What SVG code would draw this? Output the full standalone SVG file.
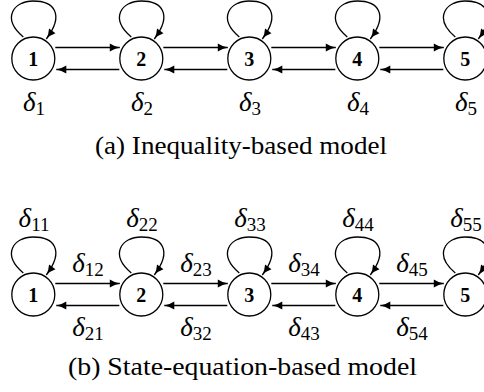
<svg xmlns="http://www.w3.org/2000/svg" width="484" height="392" viewBox="0 0 484 392">
<style>
.node{fill:#fff;stroke:#000;stroke-width:1.3}
.num{font-weight:bold;font-size:20px;text-anchor:middle}
.edge{fill:none;stroke:#000;stroke-width:1.3;marker-end:url(#ah)}
.lab{font-style:italic;font-size:27px;text-anchor:middle}
.sub{font-style:normal;font-size:19px}
.cap{font-size:26px;text-anchor:middle}
</style>
<defs>
<marker id="ah" markerUnits="userSpaceOnUse" markerWidth="11" markerHeight="9" refX="10" refY="4" orient="auto" overflow="visible">
<path d="M0,0 Q5,3.2 10,4 Q5,4.8 0,8 Z" fill="#000"/>
</marker>
</defs>
<rect width="484" height="392" fill="#fff"/>
<g id="connectors">
<path class="edge" d="M23.3,37 C1.3,18.5 13.3,1 33.3,1 C53.3,1 65.3,13.5 46.3,39"/>
<path class="edge" d="M131.3,37 C109.3,18.5 121.3,1 141.3,1 C161.3,1 173.3,13.5 154.3,39"/>
<path class="edge" d="M239.3,37 C217.3,18.5 229.3,1 249.3,1 C269.3,1 281.3,13.5 262.3,39"/>
<path class="edge" d="M347.3,37 C325.3,18.5 337.3,1 357.3,1 C377.3,1 389.3,13.5 370.3,39"/>
<path class="edge" d="M455.3,37 C433.3,18.5 445.3,1 465.3,1 C485.3,1 497.3,13.5 478.3,39"/>
<path class="edge" d="M55.3,47.5 H119.8"/>
<path class="edge" d="M163.3,47.5 H227.8"/>
<path class="edge" d="M271.3,47.5 H335.8"/>
<path class="edge" d="M379.3,47.5 H443.8"/>
<path class="edge" d="M119.3,69.5 H56.3"/>
<path class="edge" d="M227.3,69.5 H164.3"/>
<path class="edge" d="M335.3,69.5 H272.3"/>
<path class="edge" d="M443.3,69.5 H380.3"/>
<path class="edge" d="M23.3,273 C1.3,254.5 13.3,237 33.3,237 C53.3,237 65.3,249.5 46.3,275"/>
<path class="edge" d="M131.3,273 C109.3,254.5 121.3,237 141.3,237 C161.3,237 173.3,249.5 154.3,275"/>
<path class="edge" d="M239.3,273 C217.3,254.5 229.3,237 249.3,237 C269.3,237 281.3,249.5 262.3,275"/>
<path class="edge" d="M347.3,273 C325.3,254.5 337.3,237 357.3,237 C377.3,237 389.3,249.5 370.3,275"/>
<path class="edge" d="M455.3,273 C433.3,254.5 445.3,237 465.3,237 C485.3,237 497.3,249.5 478.3,275"/>
<path class="edge" d="M55.3,283.5 H119.8"/>
<path class="edge" d="M163.3,283.5 H227.8"/>
<path class="edge" d="M271.3,283.5 H335.8"/>
<path class="edge" d="M379.3,283.5 H443.8"/>
<path class="edge" d="M119.3,305.5 H56.3"/>
<path class="edge" d="M227.3,305.5 H164.3"/>
<path class="edge" d="M335.3,305.5 H272.3"/>
<path class="edge" d="M443.3,305.5 H380.3"/>
</g>
<g font-family="Liberation Serif, DejaVu Serif, serif">
<g id="a1"><circle class="node" cx="33.3" cy="58.5" r="21.5"/><text class="num" x="33.3" y="65.5">1</text><text class="lab" x="34" y="111">δ<tspan class="sub" dy="4">1</tspan></text></g>
<g id="a2"><circle class="node" cx="141.3" cy="58.5" r="21.5"/><text class="num" x="141.3" y="65.5">2</text><text class="lab" x="142" y="111">δ<tspan class="sub" dy="4">2</tspan></text></g>
<g id="a3"><circle class="node" cx="249.3" cy="58.5" r="21.5"/><text class="num" x="249.3" y="65.5">3</text><text class="lab" x="250" y="111">δ<tspan class="sub" dy="4">3</tspan></text></g>
<g id="a4"><circle class="node" cx="357.3" cy="58.5" r="21.5"/><text class="num" x="357.3" y="65.5">4</text><text class="lab" x="358" y="111">δ<tspan class="sub" dy="4">4</tspan></text></g>
<g id="a5"><circle class="node" cx="465.3" cy="58.5" r="21.5"/><text class="num" x="465.3" y="65.5">5</text><text class="lab" x="466" y="111">δ<tspan class="sub" dy="4">5</tspan></text></g>
<text class="cap" x="241" y="154" textLength="292" lengthAdjust="spacingAndGlyphs">(a) Inequality-based model</text>
<g id="b1"><circle class="node" cx="33.3" cy="294.5" r="21.5"/><text class="num" x="33.3" y="301.5">1</text></g>
<g id="b2"><circle class="node" cx="141.3" cy="294.5" r="21.5"/><text class="num" x="141.3" y="301.5">2</text></g>
<g id="b3"><circle class="node" cx="249.3" cy="294.5" r="21.5"/><text class="num" x="249.3" y="301.5">3</text></g>
<g id="b4"><circle class="node" cx="357.3" cy="294.5" r="21.5"/><text class="num" x="357.3" y="301.5">4</text></g>
<g id="b5"><circle class="node" cx="465.3" cy="294.5" r="21.5"/><text class="num" x="465.3" y="301.5">5</text></g>
<g id="labels-b">
<text class="lab" x="34" y="227">δ<tspan class="sub" dy="4">11</tspan></text>
<text class="lab" x="142" y="227">δ<tspan class="sub" dy="4">22</tspan></text>
<text class="lab" x="250" y="227">δ<tspan class="sub" dy="4">33</tspan></text>
<text class="lab" x="358" y="227">δ<tspan class="sub" dy="4">44</tspan></text>
<text class="lab" x="466" y="227">δ<tspan class="sub" dy="4">55</tspan></text>
<text class="lab" x="88" y="272">δ<tspan class="sub" dy="4">12</tspan></text>
<text class="lab" x="196" y="272">δ<tspan class="sub" dy="4">23</tspan></text>
<text class="lab" x="304" y="272">δ<tspan class="sub" dy="4">34</tspan></text>
<text class="lab" x="412" y="272">δ<tspan class="sub" dy="4">45</tspan></text>
<text class="lab" x="88" y="336">δ<tspan class="sub" dy="4">21</tspan></text>
<text class="lab" x="196" y="336">δ<tspan class="sub" dy="4">32</tspan></text>
<text class="lab" x="304" y="336">δ<tspan class="sub" dy="4">43</tspan></text>
<text class="lab" x="412" y="336">δ<tspan class="sub" dy="4">54</tspan></text>
</g>
<text class="cap" x="242.5" y="375" textLength="349" lengthAdjust="spacingAndGlyphs">(b) State-equation-based model</text>
</g>
</svg>
